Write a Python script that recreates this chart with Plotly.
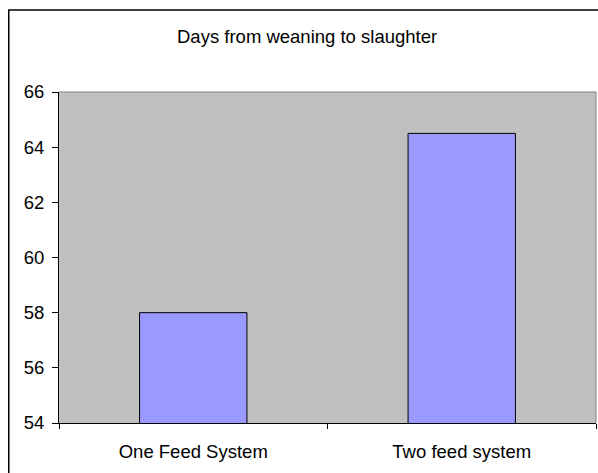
import plotly.graph_objects as go

categories = ["One Feed System", "Two feed system"]
days = [58.0, 64.5]
y_ticks = [54, 56, 58, 60, 62, 64, 66]
title_text = "Days from weaning to slaughter"

W, H = 598, 473
L, R, T, B = 59, 2, 92, 50
pw, ph = W - L - R, H - T - B

def px_x(x):
    return (x - L) / pw

def px_y(y):
    return (H - B - y) / ph

FONT = "Liberation Sans, Arial, sans-serif"

fig = go.Figure(go.Bar(
    x=categories, y=days,
    marker=dict(color="#9999FF", line=dict(color="#000000", width=1)),
))

fig.update_layout(
    width=W, height=H,
    margin=dict(l=L, r=R, t=T, b=B, pad=0),
    paper_bgcolor="white",
    plot_bgcolor="#C0C0C0",
    bargap=0.6,
    showlegend=False,
    font=dict(family=FONT, size=18.5, color="#000000"),
    xaxis=dict(
        type="category",
        automargin=False,
        showgrid=False, zeroline=False,
        showline=True, linecolor="#000000", linewidth=1,
        ticks="outside", ticklen=5, tickcolor="#000000", tickwidth=1,
        tickson="boundaries",
        ticklabelstandoff=12,
        tickfont=dict(family=FONT, size=18.5, color="#000000"),
    ),
    yaxis=dict(
        range=[54, 66],
        automargin=False,
        tickvals=y_ticks,
        ticktext=[str(v) for v in y_ticks],
        showgrid=False, zeroline=False,
        showline=True, linecolor="#000000", linewidth=1,
        ticks="outside", ticklen=6, tickcolor="#000000", tickwidth=1,
        ticklabelstandoff=4,
        tickfont=dict(family=FONT, size=18.5, color="#000000"),
    ),
    annotations=[dict(
        text=title_text, xref="paper", yref="paper",
        x=px_x(307), y=px_y(37), xanchor="center", yanchor="middle",
        showarrow=False, font=dict(family=FONT, size=18.5, color="#000000"),
    )],
    shapes=[
        # plot-area border (top, right)
        dict(type="line", xref="paper", yref="paper", x0=0, x1=1, y0=1, y1=1,
             line=dict(color="#808080", width=1), layer="below"),
        dict(type="line", xref="paper", yref="paper", x0=1, x1=1, y0=0, y1=1,
             line=dict(color="#808080", width=1), layer="below"),
        # outer chart frame
        dict(type="line", xref="paper", yref="paper",
             x0=px_x(8.75), x1=px_x(8.75), y0=px_y(10), y1=px_y(H + 20),
             line=dict(color="#000000", width=1.5)),
        dict(type="line", xref="paper", yref="paper",
             x0=px_x(8), x1=px_x(W + 20), y0=px_y(10), y1=px_y(10),
             line=dict(color="#000000", width=1.5)),
    ],
)

fig.write_html(
    "out.html",
    config={"displayModeBar": False},
    post_script="document.body.style.margin='0';document.body.style.overflow='hidden';",
)
